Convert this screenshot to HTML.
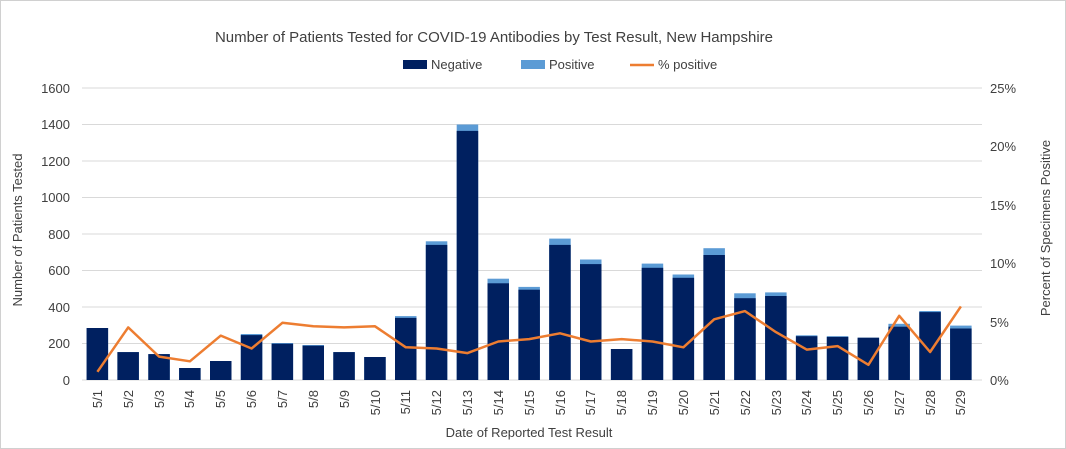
<!DOCTYPE html>
<html><head><meta charset="utf-8"><style>
body{margin:0;background:#fff}
svg{display:block;font-family:"Liberation Sans",sans-serif;}
</style></head><body>
<svg width="1066" height="449" viewBox="0 0 1066 449">
<rect x="0.5" y="0.5" width="1065" height="448" fill="#fff" stroke="#d0d0d0"/>
<text x="494" y="42" font-size="15" fill="#404040" text-anchor="middle">Number of Patients Tested for COVID-19 Antibodies by Test Result, New Hampshire</text>
<rect x="403" y="60" width="24" height="9" fill="#002060"/><text x="431" y="69" font-size="13" fill="#404040">Negative</text>
<rect x="521" y="60" width="24" height="9" fill="#5b9bd5"/><text x="549" y="69" font-size="13" fill="#404040">Positive</text>
<line x1="630" y1="65" x2="654" y2="65" stroke="#ed7d31" stroke-width="2.5"/><text x="658" y="69" font-size="13" fill="#404040">% positive</text>
<g stroke="#d9d9d9" stroke-width="1">
<line x1="82" x2="982" y1="88" y2="88"/><line x1="82" x2="982" y1="124.5" y2="124.5"/><line x1="82" x2="982" y1="161" y2="161"/><line x1="82" x2="982" y1="197.5" y2="197.5"/><line x1="82" x2="982" y1="234" y2="234"/><line x1="82" x2="982" y1="270.5" y2="270.5"/><line x1="82" x2="982" y1="307" y2="307"/><line x1="82" x2="982" y1="343.5" y2="343.5"/><line x1="82" x2="982" y1="380" y2="380"/>
</g>
<g font-size="13" fill="#404040" text-anchor="end">
<text x="70" y="93">1600</text><text x="70" y="129">1400</text><text x="70" y="166">1200</text><text x="70" y="202">1000</text><text x="70" y="239">800</text><text x="70" y="275">600</text><text x="70" y="312">400</text><text x="70" y="348">200</text><text x="70" y="385">0</text>
</g>
<g font-size="13" fill="#404040" text-anchor="start">
<text x="990" y="93">25%</text><text x="990" y="151">20%</text><text x="990" y="210">15%</text><text x="990" y="268">10%</text><text x="990" y="327">5%</text><text x="990" y="385">0%</text>
</g>
<g transform="translate(0,380) scale(1,-1)">
<g fill="#5b9bd5">
<rect x="86.6" y="0" width="21.5" height="52"/><rect x="117.4" y="0" width="21.5" height="27.9"/><rect x="148.3" y="0" width="21.5" height="25.9"/><rect x="179.1" y="0" width="21.5" height="12"/><rect x="210" y="0" width="21.5" height="19"/><rect x="240.8" y="0" width="21.5" height="46"/><rect x="271.6" y="0" width="21.5" height="37"/><rect x="302.5" y="0" width="21.5" height="35"/><rect x="333.3" y="0" width="21.5" height="27.9"/><rect x="364.2" y="0" width="21.5" height="23"/><rect x="395" y="0" width="21.5" height="63.9"/><rect x="425.8" y="0" width="21.5" height="138.7"/><rect x="456.7" y="0" width="21.5" height="255.5"/><rect x="487.5" y="0" width="21.5" height="101.3"/><rect x="518.4" y="0" width="21.5" height="93.1"/><rect x="549.2" y="0" width="21.5" height="141.4"/><rect x="580" y="0" width="21.5" height="120.5"/><rect x="610.9" y="0" width="21.5" height="31"/><rect x="641.7" y="0" width="21.5" height="116.4"/><rect x="672.6" y="0" width="21.5" height="105.5"/><rect x="703.4" y="0" width="21.5" height="131.8"/><rect x="734.2" y="0" width="21.5" height="86.7"/><rect x="765.1" y="0" width="21.5" height="87.6"/><rect x="795.9" y="0" width="21.5" height="44.7"/><rect x="826.8" y="0" width="21.5" height="43.8"/><rect x="857.6" y="0" width="21.5" height="42.3"/><rect x="888.4" y="0" width="21.5" height="56.2"/><rect x="919.3" y="0" width="21.5" height="69"/><rect x="950.1" y="0" width="21.5" height="54.4"/>
</g>
<g fill="#002060">
<rect x="86.6" y="0" width="21.5" height="52"/><rect x="117.4" y="0" width="21.5" height="27.9"/><rect x="148.3" y="0" width="21.5" height="25.9"/><rect x="179.1" y="0" width="21.5" height="12"/><rect x="210" y="0" width="21.5" height="19"/><rect x="240.8" y="0" width="21.5" height="44.9"/><rect x="271.6" y="0" width="21.5" height="36.3"/><rect x="302.5" y="0" width="21.5" height="34.3"/><rect x="333.3" y="0" width="21.5" height="27.9"/><rect x="364.2" y="0" width="21.5" height="23"/><rect x="395" y="0" width="21.5" height="62.1"/><rect x="425.8" y="0" width="21.5" height="135.1"/><rect x="456.7" y="0" width="21.5" height="249.1"/><rect x="487.5" y="0" width="21.5" height="96.7"/><rect x="518.4" y="0" width="21.5" height="90.3"/><rect x="549.2" y="0" width="21.5" height="135.1"/><rect x="580" y="0" width="21.5" height="115.9"/><rect x="610.9" y="0" width="21.5" height="31"/><rect x="641.7" y="0" width="21.5" height="112.2"/><rect x="672.6" y="0" width="21.5" height="102.2"/><rect x="703.4" y="0" width="21.5" height="125"/><rect x="734.2" y="0" width="21.5" height="81.8"/><rect x="765.1" y="0" width="21.5" height="84"/><rect x="795.9" y="0" width="21.5" height="43.8"/><rect x="826.8" y="0" width="21.5" height="43.1"/><rect x="857.6" y="0" width="21.5" height="42.3"/><rect x="888.4" y="0" width="21.5" height="53.3"/><rect x="919.3" y="0" width="21.5" height="67.9"/><rect x="950.1" y="0" width="21.5" height="51.5"/>
</g>
</g>
<polyline fill="none" stroke="#ed7d31" stroke-width="2.5" stroke-linejoin="round" points="97.4,371.8 128.2,327.4 159.1,356.6 189.9,361.3 220.8,335.6 251.6,348.5 282.4,322.8 313.3,326.3 344.1,327.4 375,326.3 405.8,347.3 436.6,348.5 467.5,353.1 498.3,341.5 529.2,339.1 560,333.3 590.8,341.5 621.7,339.1 652.5,341.5 683.4,347.3 714.2,319.3 745,311.1 775.9,332.1 806.7,349.6 837.6,346.1 868.4,364.8 899.2,315.8 930.1,352 960.9,306.4"/>
<g font-size="13" fill="#404040" text-anchor="end">
<text transform="translate(102,390) rotate(-90)">5/1</text><text transform="translate(133,390) rotate(-90)">5/2</text><text transform="translate(164,390) rotate(-90)">5/3</text><text transform="translate(194,390) rotate(-90)">5/4</text><text transform="translate(225,390) rotate(-90)">5/5</text><text transform="translate(256,390) rotate(-90)">5/6</text><text transform="translate(287,390) rotate(-90)">5/7</text><text transform="translate(318,390) rotate(-90)">5/8</text><text transform="translate(349,390) rotate(-90)">5/9</text><text transform="translate(380,390) rotate(-90)">5/10</text><text transform="translate(410,390) rotate(-90)">5/11</text><text transform="translate(441,390) rotate(-90)">5/12</text><text transform="translate(472,390) rotate(-90)">5/13</text><text transform="translate(503,390) rotate(-90)">5/14</text><text transform="translate(534,390) rotate(-90)">5/15</text><text transform="translate(565,390) rotate(-90)">5/16</text><text transform="translate(595,390) rotate(-90)">5/17</text><text transform="translate(626,390) rotate(-90)">5/18</text><text transform="translate(657,390) rotate(-90)">5/19</text><text transform="translate(688,390) rotate(-90)">5/20</text><text transform="translate(719,390) rotate(-90)">5/21</text><text transform="translate(750,390) rotate(-90)">5/22</text><text transform="translate(781,390) rotate(-90)">5/23</text><text transform="translate(811,390) rotate(-90)">5/24</text><text transform="translate(842,390) rotate(-90)">5/25</text><text transform="translate(873,390) rotate(-90)">5/26</text><text transform="translate(904,390) rotate(-90)">5/27</text><text transform="translate(935,390) rotate(-90)">5/28</text><text transform="translate(965,390) rotate(-90)">5/29</text>
</g>
<text x="529" y="437" font-size="13" fill="#404040" text-anchor="middle">Date of Reported Test Result</text>
<text transform="translate(22,230) rotate(-90)" font-size="13" fill="#404040" text-anchor="middle">Number of Patients Tested</text>
<text transform="translate(1050,228) rotate(-90)" font-size="13" fill="#404040" text-anchor="middle">Percent of Specimens Positive</text>
</svg>
</body></html>
